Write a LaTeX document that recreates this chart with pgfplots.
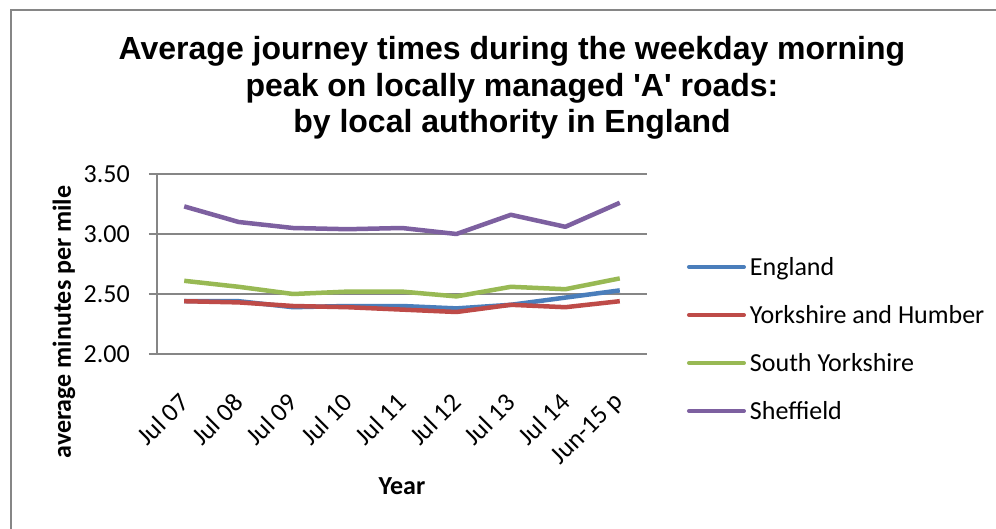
\documentclass[border=0pt]{standalone}
\usepackage{fontspec}
\setmainfont{Carlito}
\newfontfamily\titlefont{Liberation Sans}
\usepackage{pgfplots}
\pgfplotsset{compat=1.18}
\definecolor{cEng}{HTML}{4A7EBB}
\definecolor{cYH}{HTML}{BE4B48}
\definecolor{cSY}{HTML}{98B954}
\definecolor{cShef}{HTML}{7D60A0}
\definecolor{axgray}{HTML}{868686}
\begin{document}
\begin{tikzpicture}[x=1pt,y=1pt]
\useasboundingbox (0,0) rectangle (996,-529);
\fill[white] (0,0) rectangle (996,-529);
\draw[axgray, line width=2pt] (11,-10) rectangle (1100,-700);
\begin{axis}[
  at={(157pt,-354pt)}, anchor=south west,
  scale only axis, width=490pt, height=180pt,
  xmin=-0.5, xmax=8.5, ymin=2, ymax=3.5,
  axis lines*=left,
  axis line style={draw=axgray, line width=2pt},
  tick align=outside,
  major tick length=8pt, minor tick length=8pt,
  every tick/.style={draw=axgray, line width=2pt},
  xtick={0,1,2,3,4,5,6,7,8},
  xticklabels={Jul 07,Jul 08,Jul 09,Jul 10,Jul 11,Jul 12,Jul 13,Jul 14,Jun-15 p},
  xtick style={draw=none},
  minor xtick={-0.5,0.5,1.5,2.5,3.5,4.5,5.5,6.5,7.5,8.5},
  ytick={2,2.5,3,3.5},
  yticklabels={2.00,2.50,3.00,3.50},
  ymajorgrids,
  major grid style={draw=axgray, line width=2pt},
  tick label style={font=\fontsize{26pt}{31pt}\selectfont},
  yticklabel style={anchor=east, inner sep=0pt},
  xticklabel style={rotate=45, anchor=east, inner sep=0pt},
  yticklabel shift=19pt,
  xticklabel shift=36pt,
  xlabel={Year},
  ylabel={average minutes per mile},
  label style={font=\fontsize{26pt}{31pt}\selectfont\bfseries},
  xlabel style={at={(axis description cs:0.5,-0.7778)}, anchor=base},
  ylabel style={at={(axis description cs:-0.1898,0.178)}, anchor=center, rotate=0},
  legend style={at={(axis description cs:1.0816,0.55)}, anchor=north west,
    draw=none, fill=none, inner sep=0pt, outer sep=0pt,
    row sep=24pt, column sep=4pt,
    font=\fontsize{26pt}{31pt}\selectfont,
    nodes={inner sep=0pt, text height=20pt, text depth=4pt}},
  legend cell align=left,
  legend image code/.code={\draw[#1, line width=4pt, line cap=round] (0pt,0pt) -- (55pt,0pt);},
  every axis plot/.append style={line width=4.5pt, line join=round, mark=none},
]
\addplot[cEng] coordinates {(0,2.44) (1,2.44) (2,2.39) (3,2.40) (4,2.40) (5,2.38) (6,2.41) (7,2.47) (8,2.53)};
\addplot[cYH] coordinates {(0,2.44) (1,2.43) (2,2.40) (3,2.39) (4,2.37) (5,2.35) (6,2.41) (7,2.39) (8,2.44)};
\addplot[cSY] coordinates {(0,2.61) (1,2.56) (2,2.50) (3,2.52) (4,2.52) (5,2.48) (6,2.56) (7,2.54) (8,2.63)};
\addplot[cShef] coordinates {(0,3.23) (1,3.10) (2,3.05) (3,3.04) (4,3.05) (5,3.00) (6,3.16) (7,3.06) (8,3.26)};
\legend{England, Yorkshire and Humber, South Yorkshire, Sheffield}
\end{axis}
\node[anchor=base, inner sep=0pt, font=\titlefont\bfseries\fontsize{32pt}{36pt}\selectfont] at (512,-60) {Average journey times during the weekday morning};
\node[anchor=base, inner sep=0pt, font=\titlefont\bfseries\fontsize{32pt}{36pt}\selectfont] at (512,-96.5) {peak on locally managed 'A' roads:};
\node[anchor=base, inner sep=0pt, font=\titlefont\bfseries\fontsize{32pt}{36pt}\selectfont] at (512,-133) {by local authority in England};
\end{tikzpicture}
\end{document}
